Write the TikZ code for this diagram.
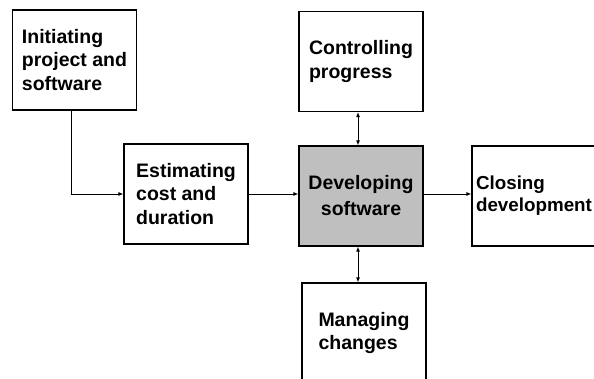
\documentclass[tikz,border=0pt]{standalone}
\usepackage{fontspec}
\setmainfont{Liberation Sans}
\usetikzlibrary{arrows.meta}
\begin{document}
\begin{tikzpicture}[x=1pt,y=-1pt,
        box/.style={draw, line width=1.2pt, minimum width=124pt, minimum height=100pt, align=left, inner sep=0pt,
            font=\fontsize{19.5}{23.5}\selectfont\bfseries},
        link/.style={line width=0.9pt, -{Latex[length=5pt,width=4pt]}},
        both/.style={line width=0.9pt, {Latex[length=5pt,width=4pt]}-{Latex[length=5pt,width=4pt]}}]
        \useasboundingbox (0,0) rectangle (594,379);

        \node[box] (init) at (74.5,60) {Initiating\\project and\\software};
        \node[box] (est) at (186,194) {Estimating\\cost and\\duration};
        \node[box, fill=gray!50, align=center, font=\fontsize{19.5}{26}\selectfont\bfseries] (dev) at (361,196) {Developing\\software};
        \node[box] (ctrl) at (361,61.5) {Controlling\\progress};
        \node[box, font=\fontsize{18.8}{22}\selectfont\bfseries] (close) at (534,196) {Closing\\development};
        \node[box] (manage) at (364,333) {Managing\\changes};

        \draw[link] ([xshift=-3.5pt]init.south) |- (est.west);
        \draw[link] (est.east) -- (est.east -| dev.west);
        \draw[link] (dev.east |- est.east) -- (est.east -| close.west);
        \draw[both] ([xshift=-3pt]dev.north) -- ([xshift=-3pt]dev.north |- ctrl.south);
        \draw[both] ([xshift=-3pt]dev.south) -- ([xshift=-3pt]dev.south |- manage.north);
    \end{tikzpicture}
\end{document}
